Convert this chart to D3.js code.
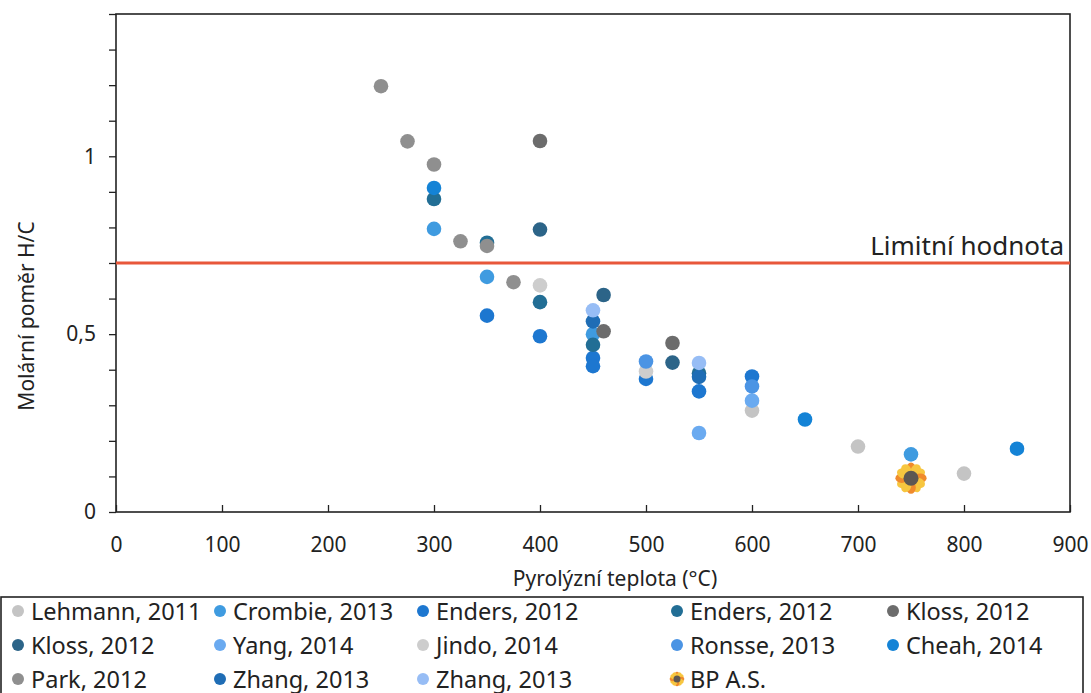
<!DOCTYPE html>
<html>
<head>
<meta charset="utf-8">
<script src="https://cdn.jsdelivr.net/npm/d3@7"></script>
<style>
  body { margin: 0; background: #fff; }
  svg { display: block; }
  text { font-family: "Noto Sans", sans-serif; fill: #222; }
</style>
</head>
<body>
<div id="chart"></div>
<script>
// data: [teplota °C, H/C]
const lehmann    = [[600, 0.285], [700, 0.184], [800, 0.108]];
const crombie    = [[300, 0.796], [350, 0.661], [450, 0.50], [750, 0.162]];
const endersBlue = [[350, 0.552], [400, 0.494], [450, 0.433], [450, 0.41], [500, 0.374], [550, 0.339], [600, 0.381]];
const endersTeal = [[300, 0.88], [350, 0.757], [400, 0.59], [450, 0.47], [550, 0.39]];
const klossGray  = [[400, 1.043], [460, 0.508], [525, 0.475]];
const klossBlue  = [[400, 0.794], [460, 0.61], [525, 0.42]];
const yang       = [[550, 0.222], [600, 0.313]];
const jindo      = [[400, 0.637], [500, 0.395]];
const ronsse     = [[500, 0.423], [600, 0.353]];
const cheah      = [[300, 0.911], [650, 0.26], [850, 0.178]];
const park       = [[250, 1.197], [275, 1.042], [300, 0.977], [325, 0.761], [350, 0.748], [375, 0.646]];
const zhangDark  = [[450, 0.536], [550, 0.38]];
const zhangLight = [[450, 0.567], [550, 0.419]];
const bp         = [[750, 0.095]];

const seriesNames = ["Lehmann, 2011", "Crombie, 2013", "Enders, 2012", "Enders, 2012", "Kloss, 2012",
                     "Kloss, 2012", "Yang, 2014", "Jindo, 2014", "Ronsse, 2013", "Cheah, 2014",
                     "Park, 2012", "Zhang, 2013", "Zhang, 2013", "BP A.S."];
const seriesData = [lehmann, crombie, endersBlue, endersTeal, klossGray, klossBlue, yang, jindo,
                    ronsse, cheah, park, zhangDark, zhangLight, bp];
const seriesColors = ["#c4c4c4", "#3f9be0", "#1d77d0", "#226e95", "#6c6c6c", "#2c6488", "#6aaaf0",
                      "#cdcdcd", "#4b94e4", "#1483d6", "#8f8f8f", "#1f6db5", "#97bdf5", "sun"];

const limit = 0.7;
const xTicks = d3.range(0, 901, 100);
const yTicks = d3.range(0, 14.1, 1).map(d => d / 10);
const yLabels = [0, 0.5, 1];

const W = 1091, H = 693;
const svg = d3.select("#chart").append("svg").attr("width", W).attr("height", H);

const x = d3.scaleLinear().domain([0, 900]).range([116, 1070]);
const y = d3.scaleLinear().domain([0, 1.4]).range([512, 14]);

// osy
const yAxis = d3.axisLeft(y).tickValues(yTicks).tickSize(7).tickPadding(13)
  .tickFormat(d => yLabels.some(v => Math.abs(v - d) < 1e-9) ? String(d3.format("~g")(d)).replace(".", ",") : "");
svg.append("g").attr("transform", "translate(116,0)").call(yAxis)
  .call(g => g.select(".domain").remove())
  .call(g => g.selectAll("line").attr("stroke", "#222").attr("stroke-width", 1.3))
  .call(g => g.selectAll("text").style("font-size", "21px").style("font-family", "Noto Sans").attr("fill", "#222"));

const xAxis = d3.axisBottom(x).tickValues(xTicks).tickSize(-7).tickPadding(25).tickFormat(d3.format("d"));
svg.append("g").attr("transform", "translate(0,512)").call(xAxis)
  .call(g => g.select(".domain").remove())
  .call(g => g.selectAll("line").attr("stroke", "#222").attr("stroke-width", 1.3))
  .call(g => g.selectAll("text").style("font-size", "21px").style("font-family", "Noto Sans").attr("fill", "#222"));

svg.append("rect").attr("x", 116).attr("y", 14).attr("width", 954).attr("height", 498)
  .attr("fill", "none").attr("stroke", "#222").attr("stroke-width", 1.6);

svg.append("text").attr("x", 615).attr("y", 586).attr("text-anchor", "middle")
  .style("font-size", "21px").text("Pyrolýzní teplota (°C)");
svg.append("text").attr("transform", "translate(34,316) rotate(-90)").attr("text-anchor", "middle")
  .style("font-size", "21px").text("Molární poměr H/C");

// limitní hodnota
svg.append("line").attr("x1", x(0)).attr("x2", x(900)).attr("y1", y(limit)).attr("y2", y(limit))
  .attr("stroke", "#e8573a").attr("stroke-width", 3);
svg.append("text").attr("x", 1064).attr("y", y(limit) - 8).attr("text-anchor", "end")
  .style("font-size", "26px").text("Limitní hodnota");

function sunflower(g, r) {
  const petals = d3.range(12);
  g.selectAll("ellipse").data(petals).join("ellipse")
    .attr("cx", 0).attr("cy", -r * 0.62).attr("rx", r * 0.32).attr("ry", r * 0.42)
    .attr("transform", d => `rotate(${d * 30})`)
    .attr("fill", d => d % 3 === 0 ? "#f08a2c" : "#f7c63f");
  g.append("circle").attr("r", r * 0.5).attr("fill", "#5d5752");
}

// body
seriesData.forEach((pts, i) => {
  const g = svg.append("g");
  if (seriesColors[i] === "sun") {
    pts.forEach(p => {
      const s = g.append("g").attr("transform", `translate(${x(p[0])},${y(p[1])})`);
      sunflower(s, 15);
    });
  } else {
    g.selectAll("circle").data(pts).join("circle")
      .attr("cx", d => x(d[0])).attr("cy", d => y(d[1])).attr("r", 7.3)
      .attr("fill", seriesColors[i]);
  }
});

// legenda
svg.append("rect").attr("x", 1).attr("y", 597).attr("width", 1082).attr("height", 110)
  .attr("fill", "none").attr("stroke", "#222").attr("stroke-width", 1.6);
const colX = [18, 220, 423, 677, 893];
const rowY = [611, 645, 679];
seriesNames.forEach((name, i) => {
  const cx = colX[i % 5], cy = rowY[Math.floor(i / 5)];
  const g = svg.append("g").attr("transform", `translate(${cx},${cy})`);
  if (seriesColors[i] === "sun") sunflower(g, 7);
  else g.append("circle").attr("r", 6).attr("fill", seriesColors[i]);
  g.append("text").attr("x", 13).attr("y", 8.5).style("font-size", "23.5px").text(name);
});
</script>
</body>
</html>
